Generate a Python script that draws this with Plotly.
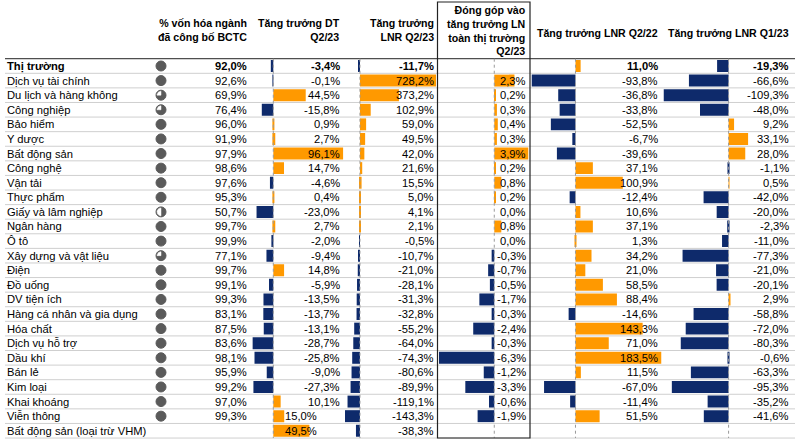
import math
import plotly.graph_objects as go

# ---------------- data ----------------
names = ["Thị trường", "Dịch vụ tài chính", "Du lịch và hàng không", "Công nghiệp", "Bảo hiểm",
         "Y dược", "Bất động sản", "Công nghệ", "Vận tải", "Thực phẩm", "Giấy và lâm nghiệp",
         "Ngân hàng", "Ô tô", "Xây dựng và vật liệu", "Điện", "Đồ uống", "DV tiện ích",
         "Hàng cá nhân và gia dụng", "Hóa chất", "Dịch vụ hỗ trợ", "Dầu khí", "Bán lẻ",
         "Kim loại", "Khai khoáng", "Viễn thông", "Bất động sản (loại trừ VHM)"]
cap_reported = [92.0, 92.6, 69.9, 76.4, 96.0, 91.9, 97.9, 98.6, 97.6, 95.3, 50.7, 99.7, 99.9,
                77.1, 99.7, 99.1, 99.3, 83.1, 87.5, 83.6, 98.1, 95.9, 99.2, 97.0, 99.3, None]
dt_q2_23 = [-3.4, -0.1, 44.5, -15.8, 0.9, 2.7, 96.1, 14.7, -4.6, 0.4, -23.0, 2.7, -2.0, -9.4,
            14.8, -5.9, -13.5, -13.7, -13.1, -28.7, -25.8, -9.0, -27.3, 10.1, 15.0, 49.5]
lnr_q2_23 = [-11.7, 728.2, 373.2, 102.9, 59.0, 49.5, 42.0, 21.6, 15.5, 5.0, 4.1, 2.1, -0.5,
             -10.7, -21.0, -28.1, -31.3, -32.8, -55.2, -64.0, -74.3, -80.6, -89.9, -119.1,
             -143.3, -38.3]
contrib_q2_23 = [None, 2.3, 0.2, 0.3, 0.4, 0.3, 3.9, 0.2, 0.8, 0.2, 0.0, 0.8, 0.0, -0.3, -0.7,
                 -0.5, -1.7, -0.3, -2.4, -0.3, -6.3, -1.2, -3.3, -0.6, -1.9, None]
lnr_q2_22 = [11.0, -93.8, -36.8, -33.8, -52.5, -6.7, -39.6, 37.1, 100.9, -12.4, 10.6, 37.1, 1.3,
             34.2, 21.0, 58.5, 88.4, -14.6, 143.3, 71.0, 183.5, 11.5, -67.0, -11.4, 51.5, None]
lnr_q1_23 = [-19.3, -66.6, -109.3, -48.0, 9.2, 33.1, 28.0, -1.1, 0.5, -42.0, -20.0, -2.3, -11.0,
             -77.3, -21.0, -20.1, 2.9, -58.8, -72.0, -80.3, -0.6, -63.3, -95.3, -35.2, -41.6, None]

headers = ["% vốn hóa ngành<br>đã công bố BCTC", "Tăng trưởng DT<br>Q2/23",
           "Tăng trưởng<br>LNR Q2/23",
           "Đóng góp vào<br>tăng trưởng LN<br>toàn thị trường<br>Q2/23",
           "Tăng trưởng LNR Q2/22", "Tăng trưởng LNR Q1/23"]

# ---------------- layout constants ----------------
W, H = 800, 445
ROW0, PITCH = 66.0, 14.59
ORANGE = "#FF9900"
NAVY = "#0E2A6B"
ICON = "#5A5A5A"
FONT = "Liberation Sans, Arial, sans-serif"
FS = 11.2
FS_HEAD = 10.6
n = len(names)


def fmt(v):
    return ("%.1f%%" % v).replace(".", ",")


def px(x):
    return x / W


def py(y):
    return 1 - y / H


# (values, bar left px, bar right px, text right px)
bar_cols = [
    (dt_q2_23, 252.4, 343.3, 342.0),
    (lnr_q2_23, 345.0, 436.0, 435.5),
    (contrib_q2_23, 439.0, 528.5, 528.0),
    (lnr_q2_22, 531.5, 661.5, 659.5),
    (lnr_q1_23, 663.5, 748.3, 791.0),
]

fig = go.Figure()
layout = dict(
    width=W, height=H, margin=dict(l=0, r=0, t=0, b=0),
    paper_bgcolor="white", plot_bgcolor="white", showlegend=False,
    barmode="overlay", hovermode=False,
    font=dict(family=FONT, size=FS, color="black"),
    yaxis=dict(domain=[0, 1], range=[(H - ROW0) / PITCH, -ROW0 / PITCH], visible=False,
               fixedrange=True),
    xaxis=dict(domain=[px(150), px(172)], range=[-11, 11], visible=False, anchor="y",
               fixedrange=True),
)

shapes = []
annotations = []

# row separators
for i in range(n + 1):
    shapes.append(dict(type="line", xref="paper", yref="y", x0=px(5), x1=px(795),
                       y0=i - 0.5, y1=i - 0.5,
                       line=dict(color="#222222" if i == 0 else "#CFCFCF", width=1)))

# bars
for k, (vals, l, r, tr) in enumerate(bar_cols):
    ax = k + 2
    good = [v for v in vals if v is not None]
    layout["xaxis%d" % ax] = dict(domain=[px(l), px(r)], range=[min(good), max(good)],
                                  visible=False, anchor="y", fixedrange=True)
    ys = [i for i, v in enumerate(vals) if v is not None]
    xs = [v for v in vals if v is not None]
    fig.add_trace(go.Bar(x=xs, y=ys, orientation="h", width=0.82,
                         marker=dict(color=[ORANGE if v >= 0 else NAVY for v in xs],
                                     line=dict(width=0)),
                         xaxis="x%d" % ax, yaxis="y"))
    shapes.append(dict(type="line", xref="x%d" % ax, yref="y", x0=0, x1=0,
                       y0=-0.5, y1=n - 0.5, layer="above",
                       line=dict(color="#9A9A9A", width=1, dash="dot")))
    for i, v in enumerate(vals):
        if v is None:
            continue
        txt = fmt(v)
        if i == 0:
            txt = "<b>%s</b>" % txt
        if k == 0 and i >= n - 2:
            annotations.append(dict(xref="paper", yref="y", x=px(283), y=i, text=txt,
                                    xanchor="left", yanchor="middle", showarrow=False))
        else:
            annotations.append(dict(xref="paper", yref="y", x=px(tr), y=i, text=txt,
                                    xanchor="right", yanchor="middle", showarrow=False))

# names and capitalisation share
for i, nm in enumerate(names):
    annotations.append(dict(xref="paper", yref="y", x=px(5), y=i,
                            text=("<b>%s</b>" % nm) if i == 0 else nm,
                            xanchor="left", yanchor="middle", showarrow=False))
    c = cap_reported[i]
    if c is not None:
        annotations.append(dict(xref="paper", yref="y", x=px(248.5), y=i,
                                text=("<b>%s</b>" % fmt(c)) if i == 0 else fmt(c),
                                xanchor="right", yanchor="middle", showarrow=False))

# Harvey-ball icons
icon_rows = [i for i, c in enumerate(cap_reported) if c is not None]
fig.add_trace(go.Scatter(x=[0] * len(icon_rows), y=icon_rows, mode="markers",
                         marker=dict(symbol="circle", size=10, color=ICON,
                                     line=dict(color=ICON, width=1)),
                         xaxis="x", yaxis="y"))
wx, wy = [], []
R = 4.0
for i, c in enumerate(cap_reported):
    if c is None:
        continue
    frac = 1.0 if c >= 80 else (0.75 if c >= 60 else (0.5 if c >= 40 else 0.25))
    if frac >= 1:
        continue
    a0, a1 = frac * 2 * math.pi, 2 * math.pi
    pts = [(0.0, float(i))]
    for s in range(25):
        t = a0 + (a1 - a0) * s / 24
        pts.append((R * math.sin(t), i - R * math.cos(t) / PITCH))
    pts.append((0.0, float(i)))
    for xx, yy in pts:
        wx.append(xx)
        wy.append(yy)
    wx.append(None)
    wy.append(None)
fig.add_trace(go.Scatter(x=wx, y=wy, mode="lines", fill="toself", fillcolor="white",
                         line=dict(color="white", width=0.5), xaxis="x", yaxis="y"))

# headers
head_pos = [(248.5, 30.5), (342.0, 30.5), (435.5, 30.5), (528.0, 30.5), (660.0, 33.3),
            (791.0, 33.3)]
for h, (xr, yc) in zip(headers, head_pos):
    annotations.append(dict(xref="paper", yref="paper", x=px(xr), y=py(yc),
                            text="<b>%s</b>" % h.replace("<br>", "</b><br><b>"),
                            xanchor="right", yanchor="middle", align="right",
                            font=dict(size=FS_HEAD), showarrow=False))

# box around contribution column
shapes.append(dict(type="rect", xref="paper", yref="paper", x0=px(437.5), x1=px(530),
                   y0=py(438), y1=py(2), line=dict(color="#222222", width=1.2),
                   layer="above"))

layout["shapes"] = shapes
layout["annotations"] = annotations
fig.update_layout(**layout)
fig.write_html("out.html", config={"displayModeBar": False},
               post_script="document.body.style.margin='0px';")
